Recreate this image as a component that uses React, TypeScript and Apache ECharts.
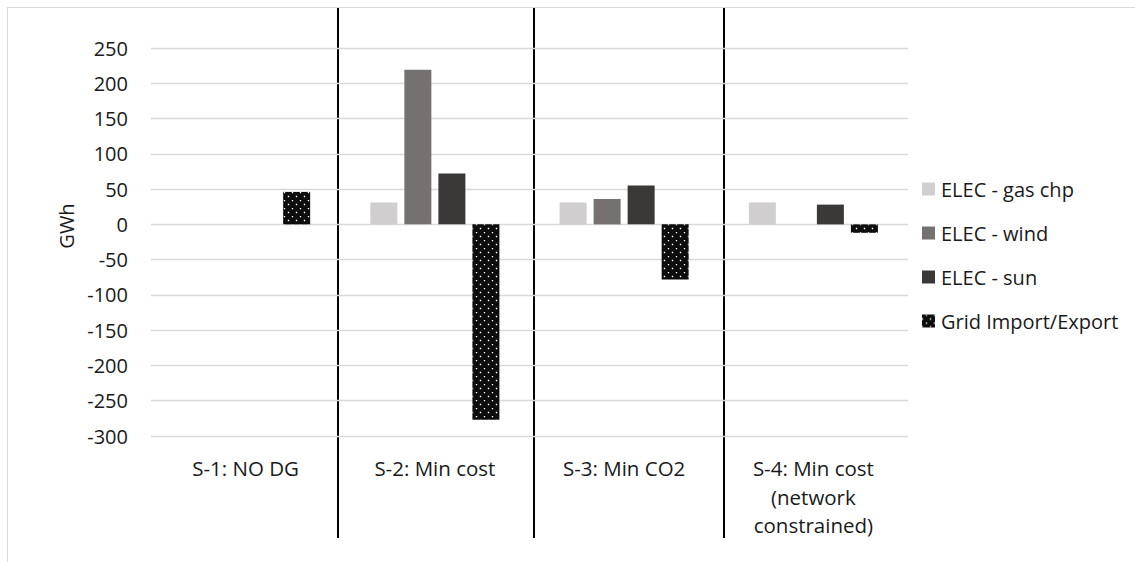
import React, { useEffect, useRef } from "react";
import * as echarts from "echarts";

const categories = ["S-1: NO DG", "S-2: Min cost", "S-3: Min CO2", "S-4: Min cost\n(network\nconstrained)"];
const seriesNames = ["ELEC - gas chp", "ELEC - wind", "ELEC - sun", "Grid Import/Export"];
const gasChp = [0, 31, 31, 31];
const wind = [0, 219, 36, 0];
const sun = [0, 72, 55, 28];
const gridImportExport = [46, -277, -78, -12];
const yTicks = { min: -300, max: 250, interval: 50 };

const FONT = "'Open Sans', sans-serif";

export default function App() {
  const ref = useRef<HTMLDivElement>(null);
  useEffect(() => {
    if (!ref.current) return;
    const chart = echarts.init(ref.current, undefined, { renderer: "svg" });
    const dots = {
      symbol: "rect",
      symbolSize: 1.4,
      color: "#ffffff",
      dashArrayX: [[1, 7], [0, 4, 1, 3]],
      dashArrayY: [1, 3],
      rotation: 0,
    };
    const colors = ["#d0cece", "#767171", "#3b3838", "#0d0d0d"];
    const values = [gasChp, wind, sun, gridImportExport];
    chart.setOption({
      animation: false,
      backgroundColor: "#ffffff",
      textStyle: { fontFamily: FONT },
      grid: { left: 151, right: 227, top: 48, bottom: 126, containLabel: false },
      legend: {
        orient: "vertical",
        left: 917,
        top: 174,
        itemWidth: 13,
        itemHeight: 13,
        itemGap: 24,
        icon: "rect",
        textStyle: { fontFamily: FONT, fontSize: 20, color: "#1a1a1a", padding: [0, 0, 0, 1] },
        data: seriesNames,
      },
      xAxis: {
        type: "category",
        data: categories,
        axisLine: { show: false },
        axisTick: { show: false },
        axisLabel: {
          fontFamily: FONT,
          fontSize: 20.5,
          color: "#1a1a1a",
          margin: 18,
          lineHeight: 28.5,
          verticalAlign: "top",
          interval: 0,
        },
        splitLine: { show: false },
      },
      yAxis: {
        type: "value",
        min: yTicks.min,
        max: yTicks.max,
        interval: yTicks.interval,
        axisLine: { show: false },
        axisTick: { show: false },
        axisLabel: { fontFamily: FONT, fontSize: 20, color: "#1a1a1a", margin: 23 },
        splitLine: { show: true, lineStyle: { color: "#d9d9d9", width: 1.3 } },
      },
      series: seriesNames.map((name, i) => ({
        name,
        type: "bar",
        data: values[i],
        barWidth: 27,
        barGap: "26%",
        itemStyle: i === 3 ? { color: colors[i], decal: dots } : { color: colors[i] },
      })),
      graphic: [
        {
          type: "line",
          shape: { x1: 7.5, y1: 7, x2: 7.5, y2: 562 },
          style: { stroke: "#d9d9d9", lineWidth: 1 },
        },
        {
          type: "line",
          shape: { x1: 7, y1: 7.5, x2: 1135, y2: 7.5 },
          style: { stroke: "#d9d9d9", lineWidth: 1 },
        },
        {
          type: "line",
          shape: { x1: 338, y1: 8, x2: 338, y2: 538 },
          style: { stroke: "#000000", lineWidth: 2 },
        },
        {
          type: "line",
          shape: { x1: 534, y1: 8, x2: 534, y2: 538 },
          style: { stroke: "#000000", lineWidth: 2 },
        },
        {
          type: "line",
          shape: { x1: 724, y1: 8, x2: 724, y2: 538 },
          style: { stroke: "#000000", lineWidth: 2 },
        },
        {
          type: "text",
          x: 66,
          y: 226,
          rotation: Math.PI / 2,
          style: {
            text: "GWh",
            fontFamily: FONT,
            fontSize: 20,
            fill: "#1a1a1a",
            textAlign: "center",
            textVerticalAlign: "middle",
          },
        },
      ],
    });
    return () => chart.dispose();
  }, []);
  return (
    <div
      ref={ref}
      style={{ position: "fixed", left: 0, top: 0, width: 1135, height: 562 }}
    />
  );
}
